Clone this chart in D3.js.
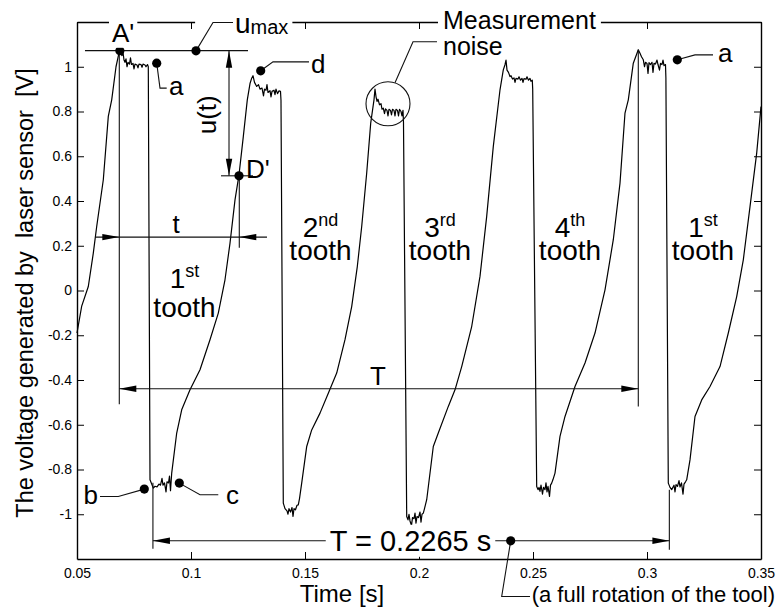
<!DOCTYPE html>
<html>
<head>
<meta charset="utf-8">
<script src="https://cdn.jsdelivr.net/npm/d3@7"></script>
<style>
body { margin: 0; background: #fff; }
text { font-family: "Liberation Sans", Arial, sans-serif; fill: #000; }
</style>
</head>
<body>
<div id="chart"></div>
<script>
// signal (time in s, voltage in V), one line per stretch
var timeS = [
    0.05, 0.05206, 0.05496, 0.05715, 0.05864, 0.06154, 0.06373, 0.06522, 0.06711, 0.06855,
    0.06974, 0.07018, 0.07061, 0.07105, 0.07149, 0.07193, 0.07237, 0.07303, 0.07346, 0.0739, 0.07456, 0.075, 0.07544, 0.07632, 0.07675, 0.07719, 0.07807, 0.07851, 0.07895, 0.07982, 0.08026, 0.08092,
    0.08127, 0.08202, 0.08346, 0.08421, 0.08509, 0.08596, 0.08662, 0.08728, 0.08772, 0.08838, 0.08904, 0.08947, 0.09013, 0.09057, 0.09101, 0.09154,
    0.09373, 0.09592, 0.09956, 0.10395, 0.10833, 0.11197, 0.11491, 0.11711, 0.1193, 0.12105, 0.12294, 0.12469, 0.12588, 0.12662,
    0.12719, 0.12785, 0.12882, 0.12961, 0.13026, 0.13114, 0.1318, 0.13224, 0.1329, 0.13333, 0.13377, 0.13465, 0.13509, 0.13553, 0.1364, 0.13684, 0.13728, 0.13794, 0.1386, 0.13925,
    0.13947, 0.14048, 0.14123, 0.14211, 0.14254, 0.14298, 0.14364, 0.1443, 0.14474, 0.14518, 0.14583, 0.14649, 0.14706, 0.14759, 0.14855,
    0.15075, 0.15294, 0.15658, 0.16022, 0.1639, 0.16754, 0.17048, 0.17294, 0.17487, 0.17706, 0.17882,
    0.18026, 0.1807, 0.18114, 0.18158, 0.18202, 0.18268, 0.18333, 0.18377, 0.18434, 0.18487, 0.18531, 0.18596, 0.1864, 0.18684, 0.1875, 0.18794, 0.18838, 0.18904, 0.18947, 0.18991, 0.19057, 0.19101, 0.19145, 0.19211, 0.19254, 0.19298,
    0.1932, 0.19461, 0.19518, 0.19561, 0.19605, 0.19671, 0.19715, 0.19781, 0.19825, 0.19868, 0.19912, 0.19978, 0.20044, 0.20088, 0.20132, 0.20189, 0.20241, 0.20338,
    0.20627, 0.20846, 0.21285, 0.21579, 0.21873, 0.22311, 0.22675, 0.22969, 0.23259, 0.23553, 0.23697,
    0.23772, 0.23816, 0.2386, 0.23925, 0.23991, 0.24035, 0.24101, 0.24167, 0.24211, 0.24254, 0.24342, 0.24386, 0.24452, 0.24518, 0.24561, 0.24605, 0.24693, 0.24737, 0.24803, 0.24868, 0.24912, 0.24969,
    0.24987, 0.25162, 0.25219, 0.25263, 0.25307, 0.25351, 0.25417, 0.25461, 0.25526, 0.2557, 0.25614, 0.25658, 0.25724, 0.25768, 0.2582, 0.25877, 0.25965,
    0.26184, 0.26404, 0.26842, 0.27281, 0.27719, 0.28158, 0.28522, 0.28816, 0.29035, 0.2918, 0.29399,
    0.29618, 0.29693, 0.29759, 0.29838, 0.2989, 0.29934, 0.3, 0.30044, 0.30088, 0.30154, 0.30219, 0.30263, 0.30307, 0.30373, 0.30439, 0.30482, 0.30548, 0.30592, 0.30658, 0.30702, 0.30746, 0.30811,
    0.30829, 0.30934, 0.31009, 0.31083, 0.31184, 0.31228, 0.31272, 0.31338, 0.31404, 0.31447, 0.31513, 0.31579, 0.31623, 0.31689, 0.31741,
    0.31886, 0.32105, 0.32399, 0.32763, 0.33202, 0.33566, 0.33934, 0.34224, 0.34518, 0.34811, 0.35
];
var voltageV = [
    -0.19, -0.07, 0.018, 0.167, 0.286, 0.495, 0.778, 0.852, 1.0, 1.068,
    1.05, 1.065, 1.03, 1.02, 1.035, 1.0, 1.02, 1.012, 1.04, 1.01, 1.015, 0.99, 1.012, 1.008, 0.995, 1.012, 1.01, 0.998, 1.012, 1.008, 1.0, 1.01,
    1.0, -0.846, -0.883, -0.875, -0.878, -0.865, -0.87, -0.84, -0.87, -0.86, -0.9, -0.855, -0.86, -0.83, -0.895, -0.816,
    -0.637, -0.533, -0.444, -0.354, -0.22, -0.101, 0.048, 0.212, 0.405, 0.517, 0.688, 0.852, 0.925, 0.949,
    0.96, 0.93, 0.912, 0.92, 0.9, 0.905, 0.87, 0.9, 0.895, 0.92, 0.885, 0.893, 0.865, 0.89, 0.895, 0.875, 0.9, 0.88, 0.892, 0.89,
    0.85, -0.95, -0.975, -0.985, -1.0, -0.975, -0.99, -0.97, -1.01, -0.975, -0.98, -0.96, -0.958, -0.93, -0.861,
    -0.697, -0.623, -0.548, -0.459, -0.369, -0.22, -0.072, 0.107, 0.286, 0.525, 0.748,
    0.852, 0.9, 0.867, 0.845, 0.855, 0.83, 0.835, 0.81, 0.815, 0.79, 0.812, 0.805, 0.78, 0.81, 0.805, 0.785, 0.81, 0.805, 0.78, 0.81, 0.805, 0.78, 0.81, 0.8, 0.78, 0.805,
    0.75, -1.01, -1.025, -1.0, -1.03, -1.05, -1.015, -1.02, -0.995, -1.04, -1.01, -1.015, -0.99, -1.035, -1.0, -0.995, -0.975, -0.935,
    -0.697, -0.637, -0.518, -0.444, -0.34, -0.161, 0.063, 0.331, 0.644, 0.897, 0.986,
    1.009, 1.03, 0.985, 0.975, 0.956, 0.96, 0.945, 0.95, 0.93, 0.948, 0.945, 0.955, 0.94, 0.948, 0.93, 0.947, 0.944, 0.955, 0.94, 0.948, 0.935, 0.94,
    0.9, -0.876, -0.89, -0.88, -0.898, -0.87, -0.91, -0.88, -0.89, -0.86, -0.9, -0.875, -0.92, -0.87, -0.861, -0.845, -0.816,
    -0.652, -0.563, -0.429, -0.324, -0.19, 0.003, 0.227, 0.48, 0.793, 0.852, 1.016,
    1.076, 1.06, 1.045, 1.031, 1.0, 1.02, 1.015, 0.97, 1.018, 1.01, 1.02, 0.975, 1.015, 1.012, 1.03, 1.01, 0.985, 1.015, 1.01, 1.03, 1.005, 1.01,
    0.95, -0.861, -0.88, -0.89, -0.87, -0.9, -0.868, -0.875, -0.85, -0.878, -0.86, -0.91, -0.865, -0.855, -0.846,
    -0.757, -0.563, -0.489, -0.429, -0.34, -0.19, -0.027, 0.137, 0.375, 0.614, 0.822
];

var xTicks = [0.05, 0.1, 0.15, 0.2, 0.25, 0.3, 0.35];
var yTicks = [-1, -0.8, -0.6, -0.4, -0.2, 0, 0.2, 0.4, 0.6, 0.8, 1];

var toothNumber = ['1', '2', '3', '4', '1'];
var toothSuffix = ['st', 'nd', 'rd', 'th', 'st'];
var toothTime = [0.09715, 0.1568, 0.20921, 0.26623, 0.32456];
var toothNumV = [0.012, 0.24, 0.24, 0.24, 0.24];
var toothWordV = [-0.1175, 0.1372, 0.1372, 0.1372, 0.1372];

var period = 0.2265;
var periodStart = 0.0833;

// set the dimensions and margins of the graph
var margin = { top: 22, right: 16, bottom: 51, left: 77 },
    width = 777 - margin.left - margin.right,
    height = 610 - margin.top - margin.bottom;

var svg = d3
    .select('#chart')
    .append('svg')
    .attr('width', 777)
    .attr('height', 610);

var g = svg.append('g').attr('transform', 'translate(' + margin.left + ',' + margin.top + ')');

var x = d3.scaleLinear().domain([0.05, 0.35]).range([0, width]);
var y = d3.scaleLinear().domain([-1.2, 1.2]).range([height, 0]);

var fmt = function(d) { return String(d); };

// axes, ticks pointing inwards on all four sides
function styleAxis(sel) {
    sel.select('.domain').attr('stroke', '#000').attr('stroke-width', 1.4);
    sel.selectAll('.tick line').attr('stroke', '#000').attr('stroke-width', 1);
    sel.selectAll('.tick text').style('font-size', '14px').attr('fill', '#000');
}

g.append('g')
    .attr('transform', 'translate(0,' + height + ')')
    .call(d3.axisBottom(x).tickValues(xTicks).tickFormat(fmt).tickSizeInner(-7).tickSizeOuter(0).tickPadding(9))
    .call(styleAxis);
g.append('g')
    .call(d3.axisLeft(y).tickValues(yTicks).tickFormat(fmt).tickSizeInner(-7).tickSizeOuter(0).tickPadding(5))
    .call(styleAxis);
g.append('g')
    .call(d3.axisTop(x).tickValues(xTicks).tickFormat('').tickSizeInner(-7).tickSizeOuter(0))
    .call(styleAxis);
g.append('g')
    .attr('transform', 'translate(' + width + ',0)')
    .call(d3.axisRight(y).tickValues(yTicks).tickFormat('').tickSizeInner(-7).tickSizeOuter(0))
    .call(styleAxis);

// axis titles
svg.append('text')
    .attr('x', 342)
    .attr('y', 602)
    .attr('text-anchor', 'middle')
    .style('font-size', '24px')
    .text('Time [s]');
svg.append('text')
    .attr('transform', 'translate(33,293) rotate(-90)')
    .attr('text-anchor', 'middle')
    .style('font-size', '23.5px')
    .style('white-space', 'pre')
    .text('The voltage generated by  laser sensor  [V]');

// the signal
var signal = timeS.map(function(t, i) { return [t, voltageV[i]]; });
var line = d3.line().x(function(d) { return x(d[0]); }).y(function(d) { return y(d[1]); });
g.append('path')
    .datum(signal)
    .attr('d', line)
    .attr('fill', 'none')
    .attr('stroke', '#000')
    .attr('stroke-width', 1.2)
    .attr('stroke-linejoin', 'round');

// ---- annotation helpers ----
var ann = g.append('g');

function seg(pts, w) {
    ann.append('path')
        .attr('d', d3.line()(pts.map(function(p) { return [x(p[0]), y(p[1])]; })))
        .attr('fill', 'none')
        .attr('stroke', '#111')
        .attr('stroke-width', w || 1.1);
}

function dot(t, v) {
    ann.append('circle').attr('cx', x(t)).attr('cy', y(v)).attr('r', 4.6).attr('fill', '#000');
}

// tip at (t, v); dx, dy = screen direction it points to
function arrow(t, v, dx, dy) {
    var tx = x(t), ty = y(v), L = 17, W = 3.2;
    var bx = tx - dx * L, by = ty - dy * L;
    ann.append('path')
        .attr('d', 'M' + tx + ',' + ty + 'L' + (bx - dy * W) + ',' + (by + dx * W) + 'L' + (bx + dy * W) + ',' + (by - dx * W) + 'Z')
        .attr('fill', '#000');
}

function label(t, v, txt, size, anchor) {
    return ann.append('text')
        .attr('x', x(t))
        .attr('y', y(v))
        .attr('text-anchor', anchor || 'start')
        .style('font-size', size + 'px')
        .text(txt);
}

// white box behind a text so it breaks the lines under it
function halo(sel, padX, padY) {
    var b = sel.node().getBBox();
    ann.insert('rect', function() { return sel.node(); })
        .attr('x', b.x - padX)
        .attr('y', b.y - padY)
        .attr('width', b.width + 2 * padX)
        .attr('height', b.height + 2 * padY)
        .attr('fill', '#fff');
}

// u_max level and u(t)
seg([[0.0535, 1.072], [0.125, 1.072]]);
seg([[0.11667, 1.072], [0.11667, 0.5126]]);
arrow(0.11667, 1.072, 0, -1);
arrow(0.11667, 0.5126, 0, 1);
seg([[0.11316, 0.5126], [0.12719, 0.5126]]);
ann.append('text')
    .attr('transform', 'translate(' + x(0.11096) + ',' + y(0.7853) + ') rotate(-90)')
    .attr('text-anchor', 'middle')
    .style('font-size', '26px')
    .text('u(t)');

// dimension t
seg([[0.06855, 1.072], [0.06855, -0.5085]]);
seg([[0.12118, 0.4948], [0.12118, 0.1908]]);
seg([[0.0579, 0.2387], [0.13333, 0.2387]]);
arrow(0.06855, 0.2387, 1, 0);
arrow(0.12118, 0.2387, -1, 0);
label(0.09342, 0.2579, 't', 26, 'middle');

// dimension T (upper)
seg([[0.29618, 1.0757], [0.29618, -0.518]]);
seg([[0.06855, -0.4393], [0.29618, -0.4393]]);
arrow(0.06855, -0.4393, -1, 0);
arrow(0.29618, -0.4393, 1, 0);
label(0.18202, -0.4214, 'T', 26, 'middle');

// dimension T = 0.2265 s (lower)
seg([[periodStart, -0.8594], [periodStart, -1.1544]]);
seg([[periodStart + period, -0.8907], [periodStart + period, -1.1589]]);
seg([[periodStart, -1.1187], [periodStart + period, -1.1187]]);
arrow(periodStart, -1.1187, -1, 0);
arrow(periodStart + period, -1.1187, 1, 0);
var tLabel = label(0.19627, -1.1634, 'T = ' + period + ' s', 29, 'middle');
halo(tLabel, 4, 0);
seg([[0.24022, -1.1187], [0.23627, -1.3676], [0.24868, -1.3676]]);
dot(0.24022, -1.1187);
label(0.24943, -1.39, '(a full rotation of the tool)', 22);

// point labels with leaders
seg([[0.08496, 1.016], [0.0864, 0.9046], [0.08934, 0.9046]]);
dot(0.08496, 1.016);
label(0.09035, 0.875, 'a', 26);

seg([[0.13057, 0.982], [0.13596, 1.022], [0.15175, 1.022]]);
dot(0.13057, 0.982);
label(0.15263, 0.9736, 'd', 26);

seg([[0.31329, 1.031], [0.32105, 1.053], [0.32895, 1.053]]);
dot(0.31329, 1.031);
label(0.33114, 1.022, 'a', 26);

seg([[0.07952, -0.8876], [0.06811, -0.9207], [0.06009, -0.9207]]);
dot(0.07952, -0.8876);
label(0.05921, -0.9562, 'b', 26, 'end');

seg([[0.09487, -0.8608], [0.10395, -0.913], [0.11197, -0.913]]);
dot(0.09487, -0.8608);
label(0.11535, -0.956, 'c', 26);

dot(0.0688, 1.072);
var aLab = label(0.06535, 1.1115, "A'", 26);
halo(aLab, 3, 0);
dot(0.12105, 0.5126);
label(0.12412, 0.505, "D'", 26);

// u_max label
var uLab = ann.append('text')
    .attr('x', x(0.1193))
    .attr('y', y(1.152))
    .style('font-size', '28px');
uLab.append('tspan').text('u');
uLab.append('tspan').style('font-size', '20px').attr('dy', 1).text('max');
halo(uLab, 4, 0);
ann.append('rect')
    .attr('x', x(0.1018)).attr('y', -4).attr('width', x(0.1193) - x(0.1018)).attr('height', 8)
    .attr('fill', '#fff');
seg([[0.10219, 1.071], [0.10965, 1.198], [0.11842, 1.198]]);
dot(0.10219, 1.071);

// measurement noise
ann.append('circle')
    .attr('cx', x(0.1864)).attr('cy', y(0.8344)).attr('r', 22)
    .attr('fill', 'none').attr('stroke', '#111').attr('stroke-width', 1.1);
seg([[0.18947, 0.9283], [0.19737, 1.1115], [0.20789, 1.1115]]);
var mLab = label(0.21053, 1.1696, 'Measurement', 25);
halo(mLab, 5, 0);
label(0.21053, 1.0534, 'noise', 25);

// tooth labels
toothNumber.forEach(function(n, i) {
    var tx = ann.append('text')
        .attr('x', x(toothTime[i]))
        .attr('y', y(toothNumV[i]))
        .attr('text-anchor', 'middle')
        .style('font-size', '28px');
    tx.append('tspan').text(n);
    tx.append('tspan').style('font-size', '18px').attr('dy', -11).text(toothSuffix[i]);
    label(toothTime[i], toothWordV[i], 'tooth', 28, 'middle');
});
</script>
</body>
</html>
